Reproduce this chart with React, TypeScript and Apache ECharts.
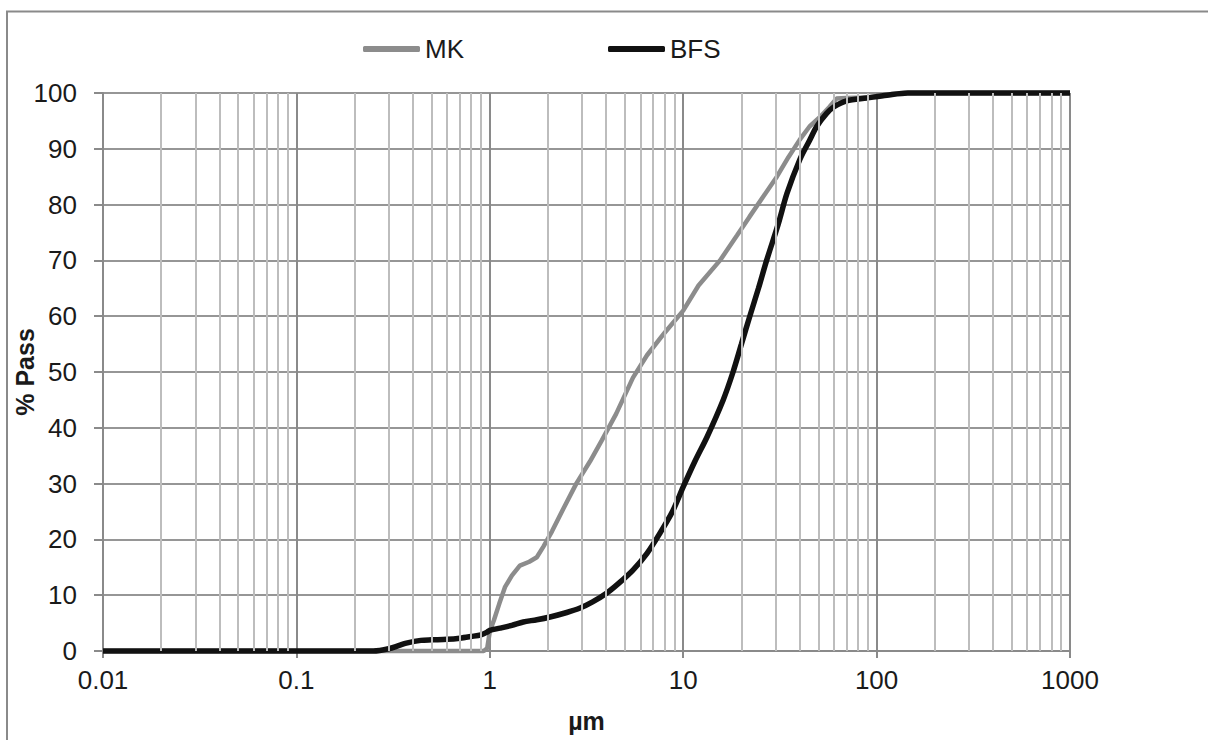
import React, { useEffect, useRef } from "react";
import * as echarts from "echarts";

const TICK_LABELS = ["0.01", "0.1", "1", "10", "100", "1000"];
const DECADES = [0.01, 0.1, 1, 10, 100];
const MINOR_MULTS = [2, 3, 4, 5, 6, 7, 8, 9];

const MK_X = [0.01, 0.1, 0.5, 0.93, 0.97, 1.0, 1.05, 1.12, 1.2, 1.3, 1.43, 1.6, 1.75, 1.9, 2.1, 2.4, 2.8, 3.3, 3.8, 4.5, 5.5, 6.5, 8, 10, 12, 15.5, 19, 22, 26, 30.5, 35, 40, 45, 51, 57, 62, 70, 90, 110, 140, 300, 1000];
const MK_Y = [0, 0, 0, 0, 0.5, 3.5, 5.5, 8.5, 11.5, 13.5, 15.3, 16.0, 16.8, 18.8, 21.5, 25.5, 30, 34, 37.8, 42.5, 49, 53, 57, 61, 65.5, 70, 74.5, 77.8, 81.5, 85, 88.5, 91.6, 94, 95.7, 97.5, 99, 99.1, 99.2, 99.7, 100, 100, 100];

const BFS_X = [0.01, 0.1, 0.25, 0.3, 0.34, 0.37, 0.44, 0.5, 0.6, 0.7, 0.8, 0.9, 0.97, 1.0, 1.13, 1.3, 1.49, 1.75, 2.05, 2.5, 2.93, 3.4, 4.03, 4.7, 5.5, 6.5, 7.58, 8.8, 10, 11.5, 13.3, 16.1, 18.1, 20, 22.1, 24.5, 27, 31, 34.4, 40, 45, 49, 55, 60, 70, 89, 113, 145, 300, 1000];
const BFS_Y = [0, 0, 0, 0.4, 1.0, 1.4, 1.9, 2.0, 2.1, 2.3, 2.6, 2.9, 3.4, 3.7, 4.1, 4.6, 5.2, 5.6, 6.1, 6.9, 7.7, 8.8, 10.4, 12.3, 14.5, 17.5, 21.1, 25, 29.4, 34, 38.4, 45, 50, 55, 60, 65, 70, 76.5, 82, 88, 91.5, 94, 96.3, 97.5, 98.6, 99.1, 99.6, 100, 100, 100];

const FONT = "'Liberation Sans', Arial, sans-serif";

export default function App() {
  const ref = useRef<HTMLDivElement>(null);
  useEffect(() => {
    if (!ref.current) return;
    const chart = echarts.init(ref.current, undefined, { renderer: "svg" });
    const minorLines: any[] = [];
    DECADES.forEach((d) => MINOR_MULTS.forEach((m) => minorLines.push({ xAxis: +(d * m).toPrecision(6) })));
    const labelFor = (v: number) => {
      const idx = Math.round(Math.log10(v)) + 2;
      return TICK_LABELS[idx] ?? String(v);
    };
    chart.setOption({
      animation: false,
      graphic: [
        {
          type: "rect",
          shape: { x: 7, y: 11.5, width: 1300, height: 800 },
          style: { fill: "none", stroke: "#8a8a8a", lineWidth: 2 },
          silent: true,
        },
      ],
      legend: {
        left: 363,
        top: 36,
        padding: 0,
        itemGap: 144,
        itemWidth: 57,
        itemHeight: 6,
        data: [
          { name: "MK", icon: "roundRect" },
          { name: "BFS", icon: "roundRect" },
        ],
        textStyle: { fontFamily: FONT, fontSize: 26, color: "#1a1a1a" },
      },
      grid: { left: 103, right: 138, top: 93, bottom: 89, containLabel: false, outerBoundsMode: "none" },
      xAxis: {
        type: "log",
        logBase: 10,
        min: 0.01,
        max: 1000,
        splitNumber: 5,
        name: "µm",
        nameLocation: "middle",
        nameGap: 57,
        nameMoveOverlap: false,
        nameTextStyle: { fontFamily: FONT, fontSize: 25, fontWeight: "bold", color: "#1a1a1a" },
        axisLine: { show: true, lineStyle: { color: "#8a8a8a", width: 2 } },
        axisTick: { show: true, length: 7, lineStyle: { color: "#8a8a8a", width: 2 } },
        axisLabel: { fontFamily: FONT, fontSize: 26, color: "#1a1a1a", margin: 16, formatter: labelFor },
        splitLine: { show: true, lineStyle: { color: "#8a8a8a", width: 2 } },
      },
      yAxis: {
        type: "value",
        min: 0,
        max: 100,
        interval: 10,
        name: "% Pass",
        nameLocation: "middle",
        nameGap: 66,
        nameMoveOverlap: false,
        nameTextStyle: { fontFamily: FONT, fontSize: 25, fontWeight: "bold", color: "#1a1a1a" },
        axisLine: { show: true, lineStyle: { color: "#8a8a8a", width: 2 } },
        axisTick: { show: true, length: 9, lineStyle: { color: "#8a8a8a", width: 2 } },
        axisLabel: { fontFamily: FONT, fontSize: 26, color: "#1a1a1a", margin: 26 },
        splitLine: { show: true, lineStyle: { color: "#969696", width: 2 } },
      },
      series: [
        {
          name: "minor-grid",
          type: "line",
          data: [],
          silent: true,
          z: 1,
          markLine: {
            silent: true,
            symbol: ["none", "none"],
            label: { show: false },
            lineStyle: { color: "#bdbdbd", width: 2, type: "solid" },
            data: minorLines,
          },
        },
        {
          name: "MK",
          type: "line",
          data: MK_X.map((x, i) => [x, MK_Y[i]]),
          symbol: "none",
          clip: false,
          z: 3,
          color: "#8c8c8c",
          lineStyle: { color: "#8c8c8c", width: 4.5 },
        },
        {
          name: "BFS",
          type: "line",
          data: BFS_X.map((x, i) => [x, BFS_Y[i]]),
          symbol: "none",
          smooth: 0.3,
          clip: false,
          z: 4,
          color: "#111111",
          lineStyle: { color: "#111111", width: 5.5 },
        },
      ],
    });
    return () => chart.dispose();
  }, []);
  return <div ref={ref} style={{ position: "fixed", left: 0, top: 0, width: 1208, height: 740, background: "#fff" }} />;
}
